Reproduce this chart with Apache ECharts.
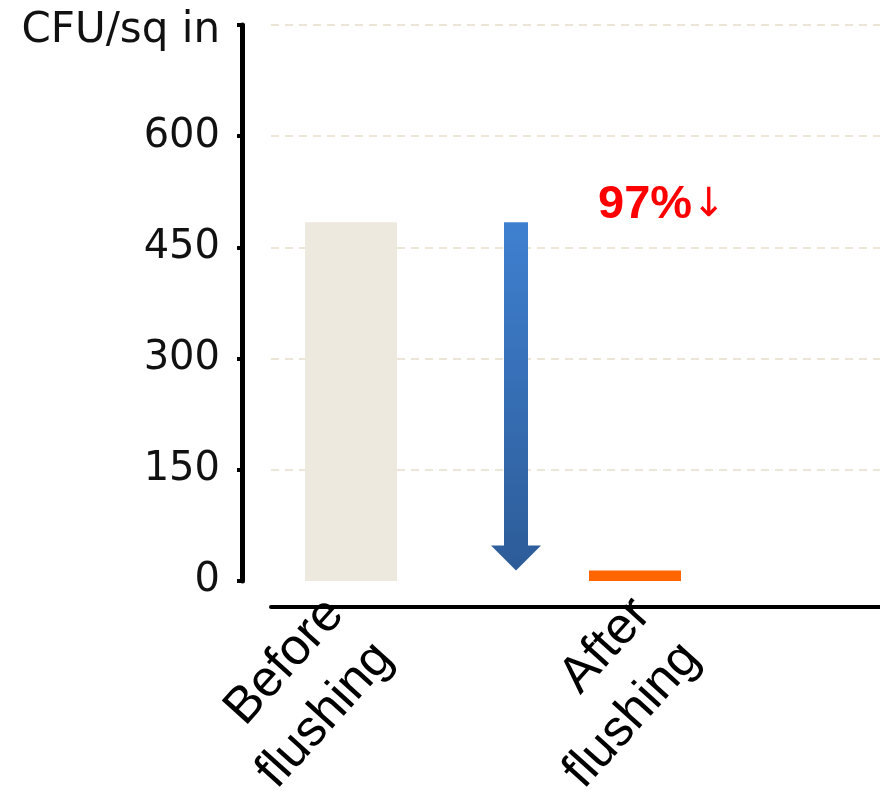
<!DOCTYPE html>
<html>
<head>
<meta charset="utf-8">
<script src="https://cdn.jsdelivr.net/npm/echarts@6/dist/echarts.min.js"></script>
<style>
  html, body { margin: 0; padding: 0; background: #fff; }
  #chart { width: 880px; height: 805px; }
</style>
</head>
<body>
<div id="chart"></div>
<script>
// Bacteria count on the surface, before and after flushing
const categories = ['Before\nflushing', 'After\nflushing'];
const cfuValues = [484, 14];
const yTicks = [0, 150, 300, 450, 600, 750];
const axisTitle = 'CFU/sq in';
const barColors = ['#ede9df', '#ff6600'];

const yMin = yTicks[0];
const yMax = yTicks[yTicks.length - 1];
const yStep = yTicks[1] - yTicks[0];
const reduction = Math.round((1 - cfuValues[1] / cfuValues[0]) * 100);

const chart = echarts.init(document.getElementById('chart'), null, { renderer: 'canvas' });

// Down arrow from the first bar's level to the second, plus the reduction label
function renderArrow(params, api) {
  const pBefore = api.coord([0, api.value(1)]);
  const pAfter = api.coord([1, api.value(2)]);
  const band = api.size([1, 0])[0];
  const cx = (pBefore[0] + pAfter[0]) / 2 + band * 0.081;
  const top = pBefore[1];
  const tip = pAfter[1];
  const sw = 12, hw = 25, hh = 25;
  return {
    type: 'group',
    children: [
      {
        type: 'polygon',
        shape: {
          points: [
            [cx - sw, top], [cx + sw, top], [cx + sw, tip - hh], [cx + hw, tip - hh],
            [cx, tip], [cx - hw, tip - hh], [cx - sw, tip - hh]
          ]
        },
        style: {
          fill: new echarts.graphic.LinearGradient(0, 0, 0, 1, [
            { offset: 0, color: '#3f80d0' },
            { offset: 1, color: '#2d5c98' }
          ])
        }
      },
      {
        type: 'text',
        style: {
          text: '{a|' + reduction + '%}{b|↓}',
          x: pAfter[0] - 37,
          y: top - 17,
          align: 'left',
          verticalAlign: 'middle',
          rich: {
            a: { fontFamily: "'Liberation Sans', Arial", fontWeight: 'bold', fontSize: 47, fill: '#ff0000' },
            b: { fontFamily: "'DejaVu Sans'", fontWeight: 'normal', fontSize: 40, fill: '#ff0000' }
          }
        }
      }
    ]
  };
}

const hiddenY = { type: 'value', min: yMin, max: yMax, interval: yStep, show: false };

chart.setOption({
  animation: false,
  grid: [
    // bars and arrow
    { left: 209, width: 568, top: 25, bottom: 224 },
    // value axis, gridlines and baseline
    { left: 271, right: 0, top: 25, bottom: 224 },
    // slanted category names
    { left: 206, width: 614, top: 25, bottom: 224 }
  ],
  xAxis: [
    {
      gridIndex: 0,
      type: 'category',
      data: categories,
      axisLine: { show: false },
      axisTick: { show: false },
      axisLabel: { show: false }
    },
    {
      gridIndex: 1,
      type: 'value',
      min: 0,
      max: 1,
      position: 'bottom',
      offset: 26,
      axisLine: { show: true, onZero: false, lineStyle: { color: '#000', width: 4 } },
      axisTick: { show: false },
      axisLabel: { show: false },
      splitLine: { show: false }
    },
    {
      gridIndex: 2,
      type: 'category',
      data: categories,
      axisLine: { show: false },
      axisTick: { show: false },
      axisLabel: {
        interval: 0,
        rotate: 48,
        margin: 72,
        fontFamily: "'Liberation Sans', Arial",
        fontSize: 51,
        lineHeight: 66,
        color: '#000'
      }
    }
  ],
  yAxis: [
    Object.assign({ gridIndex: 0 }, hiddenY),
    {
      gridIndex: 1,
      type: 'value',
      min: yMin,
      max: yMax,
      interval: yStep,
      position: 'left',
      offset: 29,
      axisLine: { show: true, onZero: false, lineStyle: { color: '#000', width: 5 } },
      axisTick: { show: true, length: 5, lineStyle: { color: '#000', width: 4 } },
      axisLabel: {
        formatter: v => (v === yMax ? '{t|' + axisTitle + '}' : String(v)),
        fontFamily: "'DejaVu Sans'",
        fontSize: 40,
        color: '#111',
        margin: 22,
        rich: {
          t: { fontFamily: "'DejaVu Sans'", fontSize: 42, color: '#111', padding: [12, 0, 0, 0] }
        }
      },
      splitLine: {
        show: true,
        showMinLine: false,
        lineStyle: { color: '#ebe6d8', type: [8, 6], width: 2 }
      }
    },
    Object.assign({ gridIndex: 2 }, hiddenY)
  ],
  series: [
    {
      type: 'bar',
      xAxisIndex: 0,
      yAxisIndex: 0,
      barWidth: 92,
      data: cfuValues.map((v, i) => ({ value: v, itemStyle: { color: barColors[i] } }))
    },
    {
      type: 'custom',
      xAxisIndex: 0,
      yAxisIndex: 0,
      renderItem: renderArrow,
      data: [[0, cfuValues[0], cfuValues[1]]],
      z: 3
    }
  ]
});
</script>
</body>
</html>
